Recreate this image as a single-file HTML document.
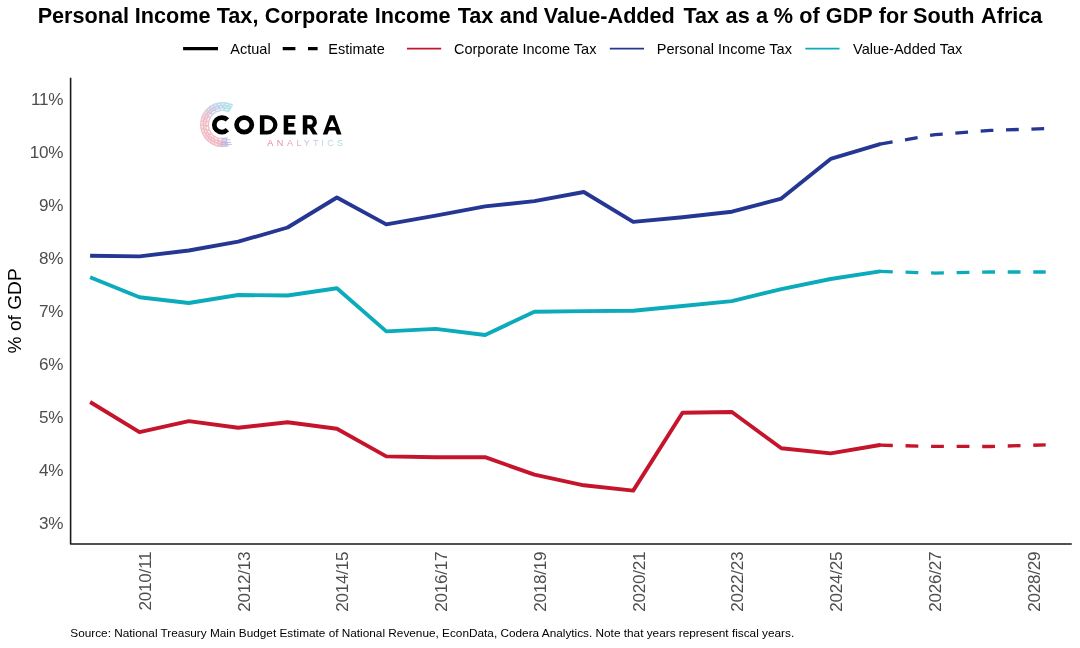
<!DOCTYPE html>
<html><head><meta charset="utf-8"><title>Chart</title>
<style>
html,body{margin:0;padding:0;background:#fff;}
body{width:1080px;height:648px;overflow:hidden;font-family:"Liberation Sans",sans-serif;}
svg{display:block;font-family:"Liberation Sans",sans-serif;}
#wrap{width:1080px;height:648px;will-change:transform;}
.ln{fill:none;stroke-width:3.9;stroke-linejoin:round;stroke-linecap:butt;}
.da{stroke-width:3.3;stroke-dasharray:12.75 12.65;}
</style></head><body>
<div id="wrap">
<svg width="1080" height="648" viewBox="0 0 1080 648">
<rect width="1080" height="648" fill="#fff"/>
<!-- title -->
<g font-size="21.65" font-weight="bold" fill="#000"><text x="37.64" y="22.9">Personal</text><text x="134.66" y="22.9">Income</text><text x="216.72" y="22.9">Tax,</text><text x="264.78" y="22.9">Corporate</text><text x="374.79" y="22.9">Income</text><text x="457.65" y="22.9">Tax</text><text x="499.85" y="22.9">and</text><text x="543.76" y="22.9">Value-Added</text><text x="683.42" y="22.9">Tax</text><text x="725.62" y="22.9">as</text><text x="755.92" y="22.9">a</text><text x="773.80" y="22.9">%</text><text x="799.24" y="22.9">of</text><text x="825.87" y="22.9">GDP</text><text x="878.76" y="22.9">for</text><text x="913.08" y="22.9">South</text><text x="981.07" y="22.9">Africa</text></g>
<!-- legend -->
<g font-size="14.5" fill="#000">
<line x1="183.1" y1="48.6" x2="218" y2="48.6" stroke="#000" stroke-width="3.3"/>
<text x="230.3" y="53.5">Actual</text>
<line x1="282.7" y1="48.6" x2="317.6" y2="48.6" stroke="#000" stroke-width="3.3" stroke-dasharray="12.7 12.6"/>
<text x="328.3" y="53.5">Estimate</text>
<line x1="407" y1="48.6" x2="441.2" y2="48.6" stroke="#C5152C" stroke-width="1.6"/>
<text x="454" y="53.5">Corporate Income Tax</text>
<line x1="609.8" y1="48.6" x2="644" y2="48.6" stroke="#253793" stroke-width="1.6"/>
<text x="656.8" y="53.5">Personal Income Tax</text>
<line x1="805.3" y1="48.6" x2="839.5" y2="48.6" stroke="#0CABBB" stroke-width="1.6"/>
<text x="853.1" y="53.5">Value-Added Tax</text>
</g>
<!-- axes -->
<path d="M70.6,77.8 V544 H1071.8" fill="none" stroke="#1a1a1a" stroke-width="1.6" stroke-linecap="butt" stroke-linejoin="round"/>
<g font-size="17.1" fill="#4d4d4d" letter-spacing="-0.25"><text x="63.1" y="105.15" text-anchor="end">11%</text><text x="63.1" y="158.07" text-anchor="end">10%</text><text x="63.1" y="210.99" text-anchor="end">9%</text><text x="63.1" y="263.91" text-anchor="end">8%</text><text x="63.1" y="316.83" text-anchor="end">7%</text><text x="63.1" y="369.75" text-anchor="end">6%</text><text x="63.1" y="422.67" text-anchor="end">5%</text><text x="63.1" y="475.59" text-anchor="end">4%</text><text x="63.1" y="528.51" text-anchor="end">3%</text></g>
<g font-size="17.1" fill="#4d4d4d" letter-spacing="-0.23"><text transform="translate(151.0,551.6) rotate(-90)" text-anchor="end">2010/11</text><text transform="translate(249.7,551.6) rotate(-90)" text-anchor="end">2012/13</text><text transform="translate(348.4,551.6) rotate(-90)" text-anchor="end">2014/15</text><text transform="translate(447.2,551.6) rotate(-90)" text-anchor="end">2016/17</text><text transform="translate(545.9,551.6) rotate(-90)" text-anchor="end">2018/19</text><text transform="translate(644.7,551.6) rotate(-90)" text-anchor="end">2020/21</text><text transform="translate(743.4,551.6) rotate(-90)" text-anchor="end">2022/23</text><text transform="translate(842.1,551.6) rotate(-90)" text-anchor="end">2024/25</text><text transform="translate(940.9,551.6) rotate(-90)" text-anchor="end">2026/27</text><text transform="translate(1039.6,551.6) rotate(-90)" text-anchor="end">2028/29</text></g>
<text transform="translate(21.2,310.9) rotate(-90)" text-anchor="middle" font-size="19.15" fill="#000">% of GDP</text>
<!-- lines -->
<polyline class="ln" stroke="#253793" points="90.1,255.8 139.5,256.4 188.8,250.5 238.2,241.7 287.6,227.5 336.9,197.5 386.3,224.4 435.7,215.6 485.1,206.4 534.4,201.1 583.8,192.0 633.2,221.9 682.5,217.3 731.9,211.7 781.3,198.6 830.6,158.9 880.0,144.1 880.5,144.1"/>
<polyline class="ln da" stroke="#253793" points="880.0,144.1 935.2,134.6 990.4,130.4 1045.7,128.6"/>
<polyline class="ln" stroke="#0CABBB" points="90.1,277.2 139.5,297.2 188.8,303.0 238.2,295.0 287.6,295.5 336.9,288.3 386.3,331.4 435.7,328.9 485.1,335.0 534.4,311.7 583.8,311.1 633.2,310.8 682.5,306.0 731.9,301.1 781.3,289.2 830.6,279.0 880.0,271.4 880.5,271.4"/>
<polyline class="ln da" style="stroke-dasharray:12.8 12.75" stroke="#0CABBB" points="880.0,271.4 935.2,273.1 990.4,272.0 1045.7,272.0"/>
<polyline class="ln" stroke="#C5152C" points="90.1,402.0 139.5,432.2 188.8,421.1 238.2,427.8 287.6,422.2 336.9,428.7 386.3,456.4 435.7,457.2 485.1,457.2 534.4,474.7 583.8,485.3 633.2,490.6 682.5,412.8 731.9,412.0 781.3,448.3 830.6,453.4 880.0,445.0 880.5,445.0"/>
<polyline class="ln da" style="stroke-dasharray:12.8 12.75" stroke="#C5152C" points="880.0,445.2 935.2,446.4 990.4,446.5 1045.7,444.9"/>
<defs>
<linearGradient id="rg" gradientUnits="userSpaceOnUse" x1="203" y1="142" x2="233" y2="104">
<stop offset="0" stop-color="#EE9AA6"/><stop offset="0.35" stop-color="#E5A3B8"/><stop offset="0.62" stop-color="#BDB2DA"/><stop offset="0.85" stop-color="#9DD3E0"/><stop offset="1" stop-color="#8FD3DE"/>
</linearGradient>
<linearGradient id="ag" gradientUnits="userSpaceOnUse" x1="267" y1="0" x2="343" y2="0">
<stop offset="0" stop-color="#E0546A"/><stop offset="0.3" stop-color="#E58A9A"/><stop offset="0.55" stop-color="#BFB3D6"/><stop offset="0.8" stop-color="#A9CFE0"/><stop offset="1" stop-color="#8FD0DC"/>
</linearGradient>
</defs>
<g fill="none" opacity="0.72">
<path d="M227.58,141.95 A18.05,18.05 0 0 1 226.11,142.31" stroke="rgb(198,174,211)" stroke-width="8.9"/>
<path d="M226.35,142.26 A18.05,18.05 0 0 1 224.86,142.51" stroke="rgb(204,172,206)" stroke-width="8.9"/>
<path d="M225.11,142.47 A18.05,18.05 0 0 1 223.61,142.62" stroke="rgb(211,171,202)" stroke-width="8.9"/>
<path d="M223.86,142.61 A18.05,18.05 0 0 1 222.35,142.65" stroke="rgb(217,169,196)" stroke-width="8.9"/>
<path d="M222.60,142.65 A18.05,18.05 0 0 1 221.09,142.59" stroke="rgb(223,166,188)" stroke-width="8.9"/>
<path d="M221.34,142.61 A18.05,18.05 0 0 1 219.84,142.44" stroke="rgb(230,163,180)" stroke-width="8.9"/>
<path d="M220.09,142.47 A18.05,18.05 0 0 1 218.60,142.20" stroke="rgb(236,160,172)" stroke-width="8.9"/>
<path d="M218.85,142.26 A18.05,18.05 0 0 1 217.38,141.88" stroke="rgb(236,160,172)" stroke-width="8.9"/>
<path d="M217.62,141.95 A18.05,18.05 0 0 1 216.19,141.47" stroke="rgb(236,160,172)" stroke-width="8.9"/>
<path d="M216.43,141.56 A18.05,18.05 0 0 1 215.03,140.99" stroke="rgb(236,161,172)" stroke-width="8.9"/>
<path d="M215.26,141.09 A18.05,18.05 0 0 1 213.90,140.42" stroke="rgb(236,161,172)" stroke-width="8.9"/>
<path d="M214.13,140.54 A18.05,18.05 0 0 1 212.82,139.77" stroke="rgb(236,161,172)" stroke-width="8.9"/>
<path d="M213.03,139.91 A18.05,18.05 0 0 1 211.79,139.05" stroke="rgb(237,161,173)" stroke-width="8.9"/>
<path d="M211.99,139.20 A18.05,18.05 0 0 1 210.81,138.26" stroke="rgb(237,161,173)" stroke-width="8.9"/>
<path d="M211.00,138.43 A18.05,18.05 0 0 1 209.88,137.41" stroke="rgb(237,161,173)" stroke-width="8.9"/>
<path d="M210.06,137.58 A18.05,18.05 0 0 1 209.02,136.49" stroke="rgb(237,162,173)" stroke-width="8.9"/>
<path d="M209.19,136.68 A18.05,18.05 0 0 1 208.22,135.51" stroke="rgb(237,162,173)" stroke-width="8.9"/>
<path d="M208.38,135.71 A18.05,18.05 0 0 1 207.50,134.48" stroke="rgb(237,162,173)" stroke-width="8.9"/>
<path d="M207.64,134.69 A18.05,18.05 0 0 1 206.84,133.41" stroke="rgb(237,162,173)" stroke-width="8.9"/>
<path d="M206.97,133.62 A18.05,18.05 0 0 1 206.27,132.29" stroke="rgb(237,162,173)" stroke-width="8.9"/>
<path d="M206.38,132.51 A18.05,18.05 0 0 1 205.77,131.13" stroke="rgb(237,162,173)" stroke-width="8.9"/>
<path d="M205.86,131.36 A18.05,18.05 0 0 1 205.36,129.94" stroke="rgb(237,163,173)" stroke-width="8.9"/>
<path d="M205.43,130.18 A18.05,18.05 0 0 1 205.03,128.72" stroke="rgb(237,163,173)" stroke-width="8.9"/>
<path d="M205.09,128.97 A18.05,18.05 0 0 1 204.78,127.49" stroke="rgb(238,163,174)" stroke-width="8.9"/>
<path d="M204.82,127.73 A18.05,18.05 0 0 1 204.62,126.24" stroke="rgb(238,163,174)" stroke-width="8.9"/>
<path d="M204.65,126.49 A18.05,18.05 0 0 1 204.55,124.98" stroke="rgb(238,163,174)" stroke-width="8.9"/>
<path d="M204.56,125.23 A18.05,18.05 0 0 1 204.57,123.72" stroke="rgb(238,164,174)" stroke-width="8.9"/>
<path d="M204.56,123.97 A18.05,18.05 0 0 1 204.68,122.46" stroke="rgb(238,164,174)" stroke-width="8.9"/>
<path d="M204.65,122.71 A18.05,18.05 0 0 1 204.87,121.22" stroke="rgb(238,164,174)" stroke-width="8.9"/>
<path d="M204.82,121.47 A18.05,18.05 0 0 1 205.15,119.99" stroke="rgb(236,165,176)" stroke-width="8.9"/>
<path d="M205.09,120.23 A18.05,18.05 0 0 1 205.51,118.78" stroke="rgb(232,166,181)" stroke-width="8.9"/>
<path d="M205.43,119.02 A18.05,18.05 0 0 1 205.96,117.61" stroke="rgb(228,167,185)" stroke-width="8.9"/>
<path d="M205.86,117.84 A18.05,18.05 0 0 1 206.49,116.46" stroke="rgb(225,168,190)" stroke-width="8.9"/>
<path d="M206.38,116.69 A18.05,18.05 0 0 1 207.10,115.36" stroke="rgb(221,170,194)" stroke-width="8.9"/>
<path d="M206.97,115.57 A18.05,18.05 0 0 1 207.78,114.30" stroke="rgb(217,171,199)" stroke-width="8.9"/>
<path d="M207.64,114.51 A18.05,18.05 0 0 1 208.53,113.29" stroke="rgb(213,172,203)" stroke-width="8.9"/>
<path d="M208.38,113.49 A18.05,18.05 0 0 1 209.36,112.34" stroke="rgb(208,174,206)" stroke-width="8.9"/>
<path d="M209.19,112.52 A18.05,18.05 0 0 1 210.24,111.44" stroke="rgb(202,176,210)" stroke-width="8.9"/>
<path d="M210.06,111.62 A18.05,18.05 0 0 1 211.19,110.61" stroke="rgb(197,178,213)" stroke-width="8.9"/>
<path d="M211.00,110.77 A18.05,18.05 0 0 1 212.20,109.85" stroke="rgb(192,180,217)" stroke-width="8.9"/>
<path d="M211.99,110.00 A18.05,18.05 0 0 1 213.25,109.16" stroke="rgb(187,182,220)" stroke-width="8.9"/>
<path d="M213.03,109.29 A18.05,18.05 0 0 1 214.35,108.55" stroke="rgb(182,184,224)" stroke-width="8.9"/>
<path d="M214.13,108.66 A18.05,18.05 0 0 1 215.49,108.01" stroke="rgb(179,187,224)" stroke-width="8.9"/>
<path d="M215.26,108.11 A18.05,18.05 0 0 1 216.66,107.55" stroke="rgb(176,190,224)" stroke-width="8.9"/>
<path d="M216.43,107.64 A18.05,18.05 0 0 1 217.87,107.18" stroke="rgb(173,193,224)" stroke-width="8.9"/>
<path d="M217.62,107.25 A18.05,18.05 0 0 1 219.09,106.89" stroke="rgb(170,196,225)" stroke-width="8.9"/>
<path d="M218.85,106.94 A18.05,18.05 0 0 1 220.34,106.69" stroke="rgb(167,198,225)" stroke-width="8.9"/>
<path d="M220.09,106.73 A18.05,18.05 0 0 1 221.59,106.58" stroke="rgb(164,201,225)" stroke-width="8.9"/>
<path d="M221.34,106.59 A18.05,18.05 0 0 1 222.85,106.55" stroke="rgb(161,204,225)" stroke-width="8.9"/>
<path d="M222.60,106.55 A18.05,18.05 0 0 1 224.11,106.61" stroke="rgb(157,206,225)" stroke-width="8.9"/>
<path d="M223.86,106.59 A18.05,18.05 0 0 1 225.36,106.76" stroke="rgb(154,208,224)" stroke-width="8.9"/>
<path d="M225.11,106.73 A18.05,18.05 0 0 1 226.60,107.00" stroke="rgb(151,210,224)" stroke-width="8.9"/>
<path d="M226.35,106.94 A18.05,18.05 0 0 1 227.82,107.32" stroke="rgb(148,212,224)" stroke-width="8.9"/>
<path d="M227.58,107.25 A18.05,18.05 0 0 1 229.01,107.73" stroke="rgb(148,212,224)" stroke-width="8.9"/>
<path d="M228.77,107.64 A18.05,18.05 0 0 1 230.17,108.21" stroke="rgb(147,212,224)" stroke-width="8.9"/>
<path d="M229.94,108.11 A18.05,18.05 0 0 1 231.07,108.66" stroke="rgb(146,212,224)" stroke-width="8.9"/>
<path d="M232.59,142.62 A20.6,20.6 0 1 1 232.59,106.58" stroke="#fff" stroke-width="1.0" stroke-dasharray="2.4 1.5" opacity="0.85"/>
<path d="M231.33,140.34 A18.0,18.0 0 1 1 231.33,108.86" stroke="#fff" stroke-width="1.0" stroke-dasharray="1.6 2.1" opacity="0.8"/>
<path d="M230.11,138.16 A15.5,15.5 0 1 1 230.11,111.04" stroke="#fff" stroke-width="1.1" stroke-dasharray="2.8 1.7" opacity="0.9"/>
<path d="M225.95,143.61 A19.3,19.3 0 0 1 216.00,106.46" stroke="#D9697C" stroke-width="0.9" stroke-dasharray="0.9 2.9" opacity="0.55"/>
<path d="M224.06,141.24 A16.7,16.7 0 0 1 215.54,109.46" stroke="#D9697C" stroke-width="0.9" stroke-dasharray="1.1 3.3" opacity="0.5"/>
<path d="M207.69,114.16 A18.2,18.2 0 0 1 224.19,106.47" stroke="#7F8FD0" stroke-width="0.9" stroke-dasharray="1.0 3.1" opacity="0.55"/>
</g>
<g stroke-linecap="round" fill="none" opacity="0.75">
<path d="M221.5,138.1 H227.6" stroke="#B9B0D8" stroke-width="0.9"/>
<path d="M222.5,139.8 H230.0" stroke="#A9A8DC" stroke-width="0.9"/>
<path d="M221.0,142.4 H230.6" stroke="#A3A6DE" stroke-width="1.0"/>
<path d="M220.0,144.4 H231.6" stroke="#9FB4DC" stroke-width="1.0"/>
<path d="M219.5,146.0 H226.0" stroke="#C9B0D0" stroke-width="0.8"/>
</g>
<path d="M227.41,119.98 A7.53,7.28 0 1 0 227.41,129.72" fill="none" stroke="#000" stroke-width="4.75"/>
<ellipse cx="244.2" cy="124.85" rx="7.62" ry="7.28" fill="none" stroke="#000" stroke-width="4.75"/>
<path fill-rule="evenodd" d="M259.9,115.3 H267.6 A9.9,9.550000000000004 0 0 1 267.6,134.4 H259.9 Z M264.4,119.0 V130.70000000000002 H267.3 A5.9,5.850000000000004 0 0 0 267.3,119.0 Z" fill="#000"/>
<path d="M283.7,115.3 H295.4 V119.1 H288.2 V123.0 H294.3 V126.7 H288.2 V130.6 H295.7 V134.4 H283.7 Z" fill="#000"/>
<path fill-rule="evenodd" d="M302.8,115.3 H310.3 A6.4,6.4 0 0 1 313.3,127.39999999999999 L317.7,134.4 H312.9 L309.0,128.2 H307.3 V134.4 H302.8 Z M307.3,119.0 V124.6 H310.0 A2.8,2.8 0 0 0 310.0,119.0 Z" fill="#000"/>
<path fill-rule="evenodd" d="M329.75,115.3 H334.54999999999995 L341.5,134.4 H336.9 L335.3,130.5 H329.00 L327.40,134.4 H322.8 Z M332.15,119.89999999999999 L328.79999999999995,126.9 H335.5 Z" fill="#000"/>
<g font-size="9.1" fill="url(#ag)" opacity="0.8"><text x="270.3" y="146.0" text-anchor="middle">A</text><text x="280.0" y="146.0" text-anchor="middle">N</text><text x="290.0" y="146.0" text-anchor="middle">A</text><text x="299.0" y="146.0" text-anchor="middle">L</text><text x="306.9" y="146.0" text-anchor="middle">Y</text><text x="315.7" y="146.0" text-anchor="middle">T</text><text x="322.4" y="146.0" text-anchor="middle">I</text><text x="330.5" y="146.0" text-anchor="middle">C</text><text x="339.9" y="146.0" text-anchor="middle">S</text></g>
<!-- caption -->
<text x="70.3" y="636.6" font-size="11.8" fill="#000">Source: National Treasury Main Budget Estimate of National Revenue, EconData, Codera Analytics. Note that years represent fiscal years.</text>
</svg>
</div>
</body></html>
